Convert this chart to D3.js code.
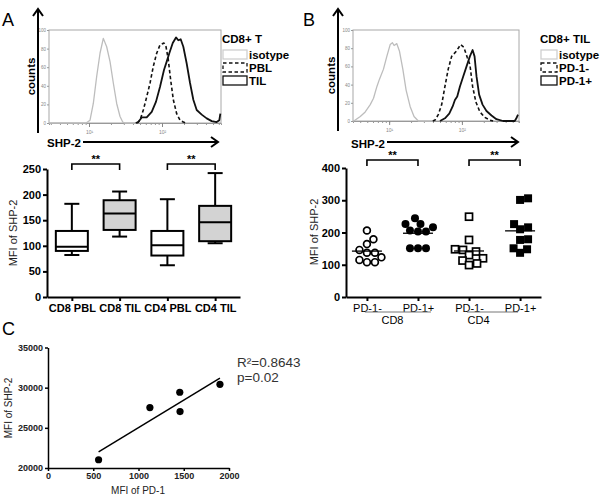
<!DOCTYPE html>
<html><head><meta charset="utf-8">
<script src="https://cdnjs.cloudflare.com/ajax/libs/d3/7.8.5/d3.min.js"></script>
<style>
body{margin:0;background:#fff}
svg{display:block}
text{font-family:"Liberation Sans",Arial,Helvetica,sans-serif}
</style>
</head><body>
<svg id="chart" width="602" height="500"></svg>
<script>
// ---------------- DATA ----------------
// Histograms: [log10(SHP-2 fluorescence), % of max counts]
const histTickLogs = [1, 2];
const histTickLabels = ["10\u00B9", "10\u00B2"];
const histCountTicks = [0, 20, 40, 60, 80, 100];

const histA_isotype = [[0.452,0],[0.96,0],[1.014,3],[1.059,21],[1.105,50],[1.151,75],[1.196,91],[1.242,82],[1.288,66],[1.333,43],[1.379,21],[1.425,7],[1.462,1],[1.49,0],[1.65,0]];
const histA_PBL = [[1.66,0],[1.699,3],[1.744,14],[1.790,28],[1.836,43],[1.881,61],[1.927,75],[1.973,84],[2.027,86],[2.055,82],[2.086,68],[2.119,46],[2.155,25],[2.201,10],[2.247,3],[2.292,1],[2.33,0]];
const histA_TIL = [[1.64,0],[1.675,1],[1.722,6],[1.790,6],[1.859,12],[1.918,23],[1.973,39],[2.027,57],[2.064,66],[2.100,75],[2.147,86],[2.192,92],[2.223,89],[2.256,90],[2.292,82],[2.338,64],[2.384,43],[2.429,25],[2.475,14],[2.544,9],[2.612,5],[2.681,2],[2.749,1],[2.785,3],[2.799,10]];

const histB_isotype = [[0.503,0],[0.534,1],[0.603,5],[0.671,10],[0.740,18],[0.785,25],[0.832,38],[0.867,46],[0.922,57],[0.968,71],[1.014,84],[1.045,86],[1.068,83],[1.105,85],[1.141,77],[1.188,57],[1.233,34],[1.288,16],[1.342,5],[1.401,0],[1.6,0]];
const histB_PD1neg = [[1.60,0],[1.630,1],[1.675,7],[1.722,18],[1.767,38],[1.812,57],[1.859,71],[1.927,77],[1.982,84],[2.027,81],[2.073,70],[2.110,62],[2.147,38],[2.192,21],[2.247,10],[2.315,4],[2.384,1],[2.429,0]];
const histB_PD1pos = [[1.699,0],[1.767,3],[1.826,8],[1.873,16],[1.904,23],[1.936,27],[1.973,38],[2.018,49],[2.064,60],[2.110,71],[2.147,78],[2.174,71],[2.201,49],[2.237,29],[2.284,18],[2.338,11],[2.407,6],[2.475,2],[2.566,0],[2.726,0],[2.749,3],[2.771,7]];

// Box plot (panel A)
const boxCategories = ["CD8 PBL", "CD8 TIL", "CD4 PBL", "CD4 TIL"];
const boxMin    = [82, 118, 62, 105];
const boxQ1     = [90, 131, 81, 109];
const boxMedian = [98, 163, 101, 146];
const boxQ3     = [129, 189, 129, 178];
const boxMax    = [182, 206, 191, 242];
const boxTicks  = [0, 50, 100, 150, 200, 250];

// Dot plot (panel B)
const dotCategories = ["CD8 PD-1-", "CD8 PD-1+", "CD4 PD-1-", "CD4 PD-1+"];
const dotLabels = ["PD-1-", "PD-1+", "PD-1-", "PD-1+"];
const dotGroupNames = ["CD8", "CD4"];
const cd8PD1neg = [206, 179, 164, 146, 137, 137, 123, 115, 108, 108];
const cd8PD1pos = [244, 226, 226, 216, 206, 203, 203, 151, 151, 151];
const cd4PD1neg = [249, 177, 148, 146, 141, 130, 120, 113, 104, 99];
const cd4PD1pos = [306, 301, 226, 216, 210, 179, 177, 151, 148, 137];
const dotTicks = [0, 100, 200, 300, 400];

// Scatter (panel C)
const pd1MFI  = [559, 1126, 1456, 1459, 1900];
const shp2MFI = [21030, 27520, 29430, 27020, 30420];
const scatterXTicks = [0, 500, 1000, 1500, 2000];
const scatterYTicks = [20000, 25000, 30000, 35000];
const statsText = ["R\u00B2=0.8643", "p=0.02"];

// ---------------- DRAW ----------------
const svg = d3.select("#chart");
svg.append("rect").attr("width", 602).attr("height", 500).attr("fill", "#fff");

function vArrow(g, x, yBottom, yTop) {
  g.append("line").attr("x1", x).attr("x2", x).attr("y1", yBottom).attr("y2", yTop + 1)
    .attr("stroke", "#000").attr("stroke-width", 2);
  g.append("path").attr("d", `M${x-5},${yTop+7}L${x},${yTop}L${x+5},${yTop+7}`)
    .attr("fill", "none").attr("stroke", "#000").attr("stroke-width", 2);
}
function hArrow(g, xLeft, xRight, y) {
  g.append("line").attr("x1", xLeft).attr("x2", xRight - 1).attr("y1", y).attr("y2", y)
    .attr("stroke", "#000").attr("stroke-width", 2);
  g.append("path").attr("d", `M${xRight-7},${y-5}L${xRight},${y}L${xRight-7},${y+5}`)
    .attr("fill", "none").attr("stroke", "#000").attr("stroke-width", 2);
}

function drawHistogram(cfg) {
  const g = svg.append("g");
  const x = d3.scaleLinear().domain(cfg.domain).range([cfg.x0, cfg.x1]);
  const y = d3.scaleLinear().domain([0, 100]).range([cfg.y1, cfg.y0]);
  g.append("rect").attr("x", cfg.x0).attr("y", cfg.y0)
    .attr("width", cfg.x1 - cfg.x0).attr("height", cfg.y1 - cfg.y0)
    .attr("fill", "none").attr("stroke", "#a8a8a8").attr("stroke-width", 1);
  const ya = d3.axisLeft(y).tickValues(histCountTicks).tickSize(2).tickPadding(1);
  const yg = g.append("g").attr("transform", `translate(${cfg.x0},0)`).call(ya);
  yg.select(".domain").remove();
  yg.selectAll("line").attr("stroke", "#999");
  yg.selectAll("text").attr("font-size", 4.5).attr("fill", "#888");
  const minors = [];
  for (let d = 0; d <= 2; d++) for (let m = 1; m <= 9; m++) {
    const v = d + Math.log10(m);
    if (v > cfg.domain[0] && v < cfg.domain[1]) minors.push(v);
  }
  const xa = d3.axisBottom(x).tickValues(minors).tickSize(2).tickFormat("");
  const xg = g.append("g").attr("transform", `translate(0,${cfg.y1})`).call(xa);
  xg.select(".domain").attr("stroke", "#999");
  xg.selectAll("line").attr("stroke", "#999");
  const xm = d3.axisBottom(x).tickValues(histTickLogs).tickSize(4)
    .tickFormat((d, i) => histTickLabels[i]);
  const xmg = g.append("g").attr("transform", `translate(0,${cfg.y1})`).call(xm);
  xmg.select(".domain").remove();
  xmg.selectAll("line").attr("stroke", "#888");
  xmg.selectAll("text").attr("font-size", 5).attr("fill", "#888");

  const line = d3.line().x(d => x(d[0])).y(d => y(d[1]));
  cfg.series.forEach(s => {
    g.append("path").datum(s.data).attr("d", line)
      .attr("fill", "none").attr("stroke", s.color).attr("stroke-width", s.width)
      .attr("stroke-dasharray", s.dash || null).attr("stroke-linejoin", "round");
  });

  g.append("text").attr("x", cfg.legX).attr("y", cfg.legY).attr("font-size", 11.5)
    .attr("font-weight", "bold").text(cfg.legTitle);
  cfg.series.forEach((s, i) => {
    const yy = cfg.legY + 7 + i * 13;
    g.append("rect").attr("x", cfg.legX + 1).attr("y", yy).attr("width", cfg.boxW).attr("height", 9)
      .attr("fill", "none").attr("stroke", s.legColor || s.color).attr("stroke-width", 1.3)
      .attr("stroke-dasharray", s.dash || null);
    g.append("text").attr("x", cfg.legX + cfg.boxW + 3).attr("y", yy + 9)
      .attr("font-size", 11.5).attr("font-weight", "bold").text(s.name);
  });

  vArrow(g, cfg.arrowX, cfg.y1 + 10, 9);
  g.append("text").attr("transform", `translate(${cfg.arrowX - 3},${(cfg.y0 + cfg.y1) / 2}) rotate(-90)`)
    .attr("text-anchor", "middle").attr("font-size", 11.5).attr("font-weight", "bold").text("counts");
  hArrow(g, cfg.hx0, cfg.hx1, 142);
  g.append("text").attr("x", cfg.shpX).attr("y", cfg.shpY).attr("font-size", 11.5)
    .attr("font-weight", "bold").text("SHP-2");
  g.append("text").attr("x", cfg.letterX).attr("y", 26).attr("font-size", 18).text(cfg.letter);
}

drawHistogram({
  x0: 49, x1: 221, y0: 30, y1: 123, domain: [0.452, 2.808],
  series: [
    {name: "isotype", data: histA_isotype, color: "#bdbdbd", width: 1.3, legColor: "#cfcfcf"},
    {name: "PBL", data: histA_PBL, color: "#111", width: 1.6, dash: "3.5,2.5"},
    {name: "TIL", data: histA_TIL, color: "#111", width: 1.8}
  ],
  legX: 222, legY: 43, legTitle: "CD8+ T", boxW: 24,
  arrowX: 38, hx0: 83, hx1: 218, shpX: 47, shpY: 147, letter: "A", letterX: 2
});
drawHistogram({
  x0: 353, x1: 519, y0: 30, y1: 121, domain: [0.503, 2.785],
  series: [
    {name: "isotype", data: histB_isotype, color: "#bdbdbd", width: 1.3, legColor: "#cfcfcf"},
    {name: "PD-1-", data: histB_PD1neg, color: "#111", width: 1.6, dash: "3.5,2.5"},
    {name: "PD-1+", data: histB_PD1pos, color: "#111", width: 1.8}
  ],
  legX: 540, legY: 43, legTitle: "CD8+ TIL", boxW: 16,
  arrowX: 338, hx0: 387, hx1: 518, shpX: 351, shpY: 148, letter: "B", letterX: 303
});

function bracket(g, xa, xb, yLine) {
  g.append("path").attr("d", `M${xa},${yLine + 6}V${yLine}H${xb}V${yLine + 6}`)
    .attr("fill", "none").attr("stroke", "#000").attr("stroke-width", 1.6);
  g.append("text").attr("x", (xa + xb) / 2).attr("y", yLine - 1).attr("text-anchor", "middle")
    .attr("font-size", 11).attr("font-weight", "bold").text("**");
}

// ---------- Panel A box plot ----------
(function () {
  const g = svg.append("g");
  const x = d3.scalePoint().domain(boxCategories).range([47, 240]).padding(0.52);
  const y = d3.scaleLinear().domain([0, 250]).range([297, 169]);
  const ya = d3.axisLeft(y).tickValues(boxTicks).tickSize(4).tickSizeOuter(0).tickPadding(2);
  const yg = g.append("g").attr("transform", "translate(47,0)").call(ya);
  const xa = d3.axisBottom(x).tickSize(4).tickSizeOuter(0).tickPadding(3);
  const xg = g.append("g").attr("transform", "translate(0,297)").call(xa);
  [yg, xg].forEach(a => {
    a.select(".domain").attr("stroke-width", 2);
    a.selectAll("line").attr("stroke-width", 2);
    a.selectAll("text").attr("font-size", 11).attr("font-weight", "bold").attr("fill", "#000");
  });
  const bw = 32, cw = 15;
  boxCategories.forEach((c, i) => {
    const cx = x(c);
    const fill = c.endsWith("TIL") ? "#d3d3d3" : "#fff";
    g.append("line").attr("x1", cx).attr("x2", cx).attr("y1", y(boxMax[i])).attr("y2", y(boxQ3[i]))
      .attr("stroke", "#000").attr("stroke-width", 2);
    g.append("line").attr("x1", cx).attr("x2", cx).attr("y1", y(boxQ1[i])).attr("y2", y(boxMin[i]))
      .attr("stroke", "#000").attr("stroke-width", 2);
    [boxMax[i], boxMin[i]].forEach(v => g.append("line").attr("x1", cx - cw / 2).attr("x2", cx + cw / 2)
      .attr("y1", y(v)).attr("y2", y(v)).attr("stroke", "#000").attr("stroke-width", 2));
    g.append("rect").attr("x", cx - bw / 2).attr("y", y(boxQ3[i])).attr("width", bw)
      .attr("height", y(boxQ1[i]) - y(boxQ3[i])).attr("fill", fill).attr("stroke", "#000").attr("stroke-width", 2);
    g.append("line").attr("x1", cx - bw / 2).attr("x2", cx + bw / 2).attr("y1", y(boxMedian[i])).attr("y2", y(boxMedian[i]))
      .attr("stroke", "#000").attr("stroke-width", 2);
  });
  bracket(g, x(boxCategories[0]), x(boxCategories[1]), 164);
  bracket(g, x(boxCategories[2]), x(boxCategories[3]), 164);
  g.append("text").attr("transform", "translate(17,233) rotate(-90)").attr("text-anchor", "middle")
    .attr("font-size", 11).attr("fill", "#222").text("MFI of SHP-2");
})();

// ---------- Panel B dot plot ----------
(function () {
  const g = svg.append("g");
  const x = d3.scalePoint().domain(dotCategories).range([346, 541]).padding(0.41);
  const y = d3.scaleLinear().domain([0, 400]).range([297, 168]);
  const ya = d3.axisLeft(y).tickValues(dotTicks).tickSize(4).tickSizeOuter(0).tickPadding(2);
  const yg = g.append("g").attr("transform", "translate(346,0)").call(ya);
  const xa = d3.axisBottom(x).tickSize(4).tickSizeOuter(0).tickPadding(3)
    .tickFormat((d, i) => dotLabels[i]);
  const xg = g.append("g").attr("transform", "translate(0,297)").call(xa);
  [yg, xg].forEach(a => {
    a.select(".domain").attr("stroke-width", 2);
    a.selectAll("line").attr("stroke-width", 2);
    a.selectAll("text").attr("font-size", 11).attr("fill", "#000");
  });
  yg.selectAll("text").attr("font-weight", "bold");
  [[0, 1], [2, 3]].forEach((pair, k) => {
    const xa0 = x(dotCategories[pair[0]]), xb0 = x(dotCategories[pair[1]]);
    g.append("line").attr("x1", xa0 - 2).attr("x2", xb0 + 13 - k * 15).attr("y1", 312).attr("y2", 312)
      .attr("stroke", "#777").attr("stroke-width", 1);
    g.append("text").attr("x", (xa0 + xb0) / 2 - k * 16).attr("y", 324).attr("text-anchor", "middle")
      .attr("font-size", 11).attr("fill", "#000").text(dotGroupNames[k]);
  });

  const sets = [cd8PD1neg, cd8PD1pos, cd4PD1neg, cd4PD1pos];
  const r = 4, dmin = 7.8;
  sets.forEach((vals, i) => {
    const cx = x(dotCategories[i]);
    const placed = [];
    const order = vals.map((v, j) => j).sort((a, b) => vals[a] - vals[b]);
    const pos = new Array(vals.length);
    order.forEach(j => {
      const py = y(vals[j]);
      let best = 0;
      for (let step = 0; step < 200; step++) {
        const off = (step % 2 ? 1 : -1) * Math.ceil(step / 2) * 0.5;
        const ok = placed.every(p => (p[0] - off) ** 2 + (p[1] - py) ** 2 >= dmin * dmin);
        if (ok) { best = off; break; }
      }
      placed.push([best, py]);
      pos[j] = [cx + best, py];
    });
    const filled = i % 2 === 1;
    const square = i >= 2;
    pos.forEach(p => {
      if (square) {
        const s = filled ? 8 : 7;
        g.append("rect").attr("x", p[0] - s / 2).attr("y", p[1] - s / 2).attr("width", s).attr("height", s)
          .attr("fill", filled ? "#000" : "#fff").attr("stroke", "#000").attr("stroke-width", filled ? 0 : 1.7);
      } else {
        g.append("circle").attr("cx", p[0]).attr("cy", p[1]).attr("r", filled ? r : r - 0.6)
          .attr("fill", filled ? "#000" : "#fff").attr("stroke", "#000").attr("stroke-width", filled ? 0 : 1.7);
      }
    });
    const m = d3.mean(vals);
    g.append("line").attr("x1", cx - 15).attr("x2", cx + 15).attr("y1", y(m)).attr("y2", y(m))
      .attr("stroke", "#000").attr("stroke-width", 1.3);
  });
  bracket(g, x(dotCategories[0]), x(dotCategories[1]), 160);
  bracket(g, x(dotCategories[2]), x(dotCategories[3]), 160);
  g.append("text").attr("transform", "translate(318,232) rotate(-90)").attr("text-anchor", "middle")
    .attr("font-size", 11).attr("fill", "#222").text("MFI of SHP-2");
})();

// ---------- Panel C scatter ----------
(function () {
  const g = svg.append("g");
  const x = d3.scaleLinear().domain([0, 2000]).range([48, 229]);
  const y = d3.scaleLinear().domain([20000, 35000]).range([468, 347.5]);
  const fmt = d3.format("d");
  const ya = d3.axisLeft(y).tickValues(scatterYTicks).tickFormat(fmt).tickSize(3).tickSizeOuter(0).tickPadding(2);
  const yg = g.append("g").attr("transform", "translate(48,0)").call(ya);
  const xa = d3.axisBottom(x).tickValues(scatterXTicks).tickFormat(fmt).tickSize(3).tickSizeOuter(0).tickPadding(2);
  const xg = g.append("g").attr("transform", "translate(0,468)").call(xa);
  [yg, xg].forEach(a => {
    a.select(".domain").attr("stroke-width", 1.5);
    a.selectAll("line").attr("stroke-width", 1.5);
    a.selectAll("text").attr("font-size", 9).attr("font-weight", "bold").attr("fill", "#222");
  });
  const mx = d3.mean(pd1MFI), my = d3.mean(shp2MFI);
  const sxy = d3.sum(pd1MFI, (v, i) => (v - mx) * (shp2MFI[i] - my));
  const sxx = d3.sum(pd1MFI, v => (v - mx) ** 2);
  const slope = sxy / sxx, icpt = my - slope * mx;
  const [xmin, xmax] = d3.extent(pd1MFI);
  g.append("line").attr("x1", x(xmin)).attr("x2", x(xmax))
    .attr("y1", y(icpt + slope * xmin)).attr("y2", y(icpt + slope * xmax))
    .attr("stroke", "#000").attr("stroke-width", 1.5);
  pd1MFI.forEach((v, i) => g.append("circle").attr("cx", x(v)).attr("cy", y(shp2MFI[i])).attr("r", 3.6).attr("fill", "#000"));
  statsText.forEach((t, i) => g.append("text").attr("x", 237).attr("y", 367 + i * 15)
    .attr("font-size", 13.5).attr("fill", "#333").text(t));
  g.append("text").attr("transform", "translate(12,408) rotate(-90)").attr("text-anchor", "middle")
    .attr("font-size", 10).attr("fill", "#222").text("MFI of SHP-2");
  g.append("text").attr("x", 138).attr("y", 494).attr("text-anchor", "middle")
    .attr("font-size", 10).attr("fill", "#222").text("MFI of PD-1");
  g.append("text").attr("x", 2).attr("y", 335).attr("font-size", 18).text("C");
})();
</script>
</body></html>
